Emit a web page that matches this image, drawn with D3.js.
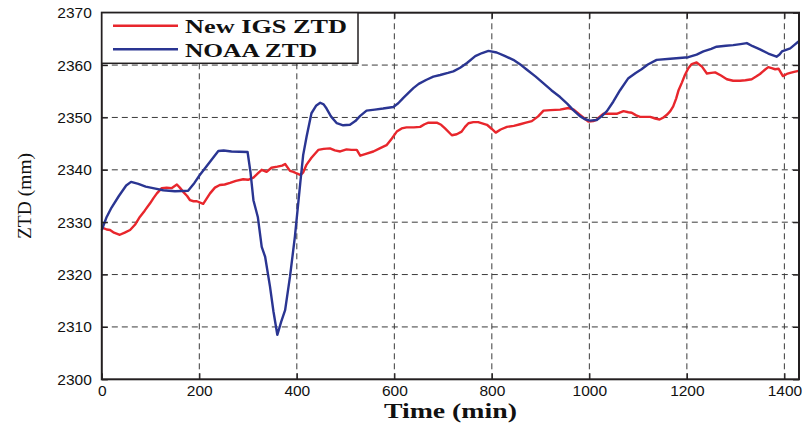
<!DOCTYPE html>
<html>
<head>
<meta charset="utf-8">
<script src="https://cdn.jsdelivr.net/npm/d3@7"></script>
<style>
  html, body { margin: 0; padding: 0; background: #fff; }
  svg { display: block; }
</style>
</head>
<body>
<svg id="chart" width="811" height="423"></svg>
<script>
// Time axis (minutes) and tick values
const xTicks = [0, 200, 400, 600, 800, 1000, 1200, 1400];
const yTicks = [2300, 2310, 2320, 2330, 2340, 2350, 2360, 2370];

// NOAA ZTD series (mm)
const noaaTime = [0,10,20,35,50,60,75,90,110,126,150,177,190,201,220,239,250,266,299,305,311,320,328,335,345,352,360,368,376,386,396,407,413,420,430,440,448,455,461,470,482,495,509,520,530,543,560,577,598,608,618,630,639,650,666,680,694,710,721,735,749,766,780,793,810,825,844,860,872,890,906,922,940,955,967,980,990,1001,1015,1025,1036,1049,1063,1080,1095,1107,1120,1138,1166,1203,1220,1234,1250,1261,1280,1295,1310,1323,1335,1350,1367,1384,1390,1395,1412,1420,1429];
const noaaZtd = [2328.5,2331,2332.8,2335,2337,2337.7,2337.3,2336.8,2336.4,2336.1,2335.9,2336.0,2337.5,2339.0,2341.3,2343.6,2343.7,2343.5,2343.4,2339.5,2334.2,2331,2325.3,2323.4,2317.7,2313,2308.5,2311,2313.2,2319.6,2327.2,2337.4,2342.8,2346.3,2350.8,2352.3,2352.8,2352.5,2351.7,2350.2,2348.9,2348.5,2348.6,2349.3,2350.3,2351.3,2351.5,2351.7,2352.0,2352.7,2353.7,2354.8,2355.6,2356.4,2357.2,2357.8,2358.1,2358.5,2358.8,2359.5,2360.4,2361.7,2362.3,2362.7,2362.4,2361.8,2361.0,2360.0,2359.1,2357.8,2356.5,2355.2,2353.9,2352.6,2351.4,2350.3,2349.7,2349.4,2349.5,2350.2,2351.2,2353.0,2355.2,2357.5,2358.5,2359.2,2360.1,2361.0,2361.2,2361.5,2362.0,2362.6,2363.1,2363.5,2363.7,2363.8,2364.0,2364.2,2363.6,2363.0,2362.2,2361.6,2362.0,2362.6,2363.2,2363.8,2364.5];

// New IGS ZTD series (mm)
const igsTime = [0,10,17,25,37,47,58,68,78,88,99,106,113,123,133,143,154,160,167,175,181,188,195,208,215,222,232,242,252,263,275,290,300,311,320,328,338,348,360,370,376,386,393,400,408,413,420,430,444,455,468,478,489,502,512,523,530,540,557,570,584,595,605,615,625,640,653,662,670,687,696,704,718,728,738,745,752,762,772,790,800,808,818,831,845,858,870,882,895,906,920,940,957,968,981,990,998,1008,1015,1022,1029,1045,1056,1070,1080,1087,1096,1104,1125,1135,1144,1152,1159,1166,1172,1178,1183,1190,1196,1203,1210,1220,1231,1241,1250,1258,1270,1282,1295,1309,1320,1333,1342,1350,1360,1367,1374,1381,1388,1397,1405,1412,1420,1429];
const igsZtd = [2329.0,2328.6,2328.5,2328.0,2327.6,2328.0,2328.5,2329.5,2331.0,2332.2,2333.6,2334.6,2335.5,2336.5,2336.6,2336.5,2337.2,2336.6,2335.8,2335.0,2334.2,2334.0,2334.0,2333.5,2334.5,2335.5,2336.6,2337.1,2337.2,2337.5,2337.9,2338.2,2338.1,2338.5,2339.3,2340.0,2339.6,2340.4,2340.6,2340.8,2341.1,2339.8,2339.6,2339.3,2339.0,2339.5,2341.0,2342.3,2343.8,2344.0,2344.1,2343.7,2343.5,2343.9,2343.8,2343.8,2342.7,2343.0,2343.5,2344.1,2344.7,2346.0,2347.3,2347.9,2348.1,2348.1,2348.2,2348.7,2349.0,2349.0,2348.6,2347.9,2346.6,2346.8,2347.3,2348.2,2348.9,2349.1,2349.1,2348.6,2347.8,2347.1,2347.7,2348.2,2348.4,2348.7,2349.0,2349.3,2350.2,2351.3,2351.4,2351.5,2351.8,2351.5,2350.5,2349.8,2349.2,2349.3,2349.6,2350.2,2350.7,2350.7,2350.7,2351.2,2351.0,2350.9,2350.4,2350.1,2350.1,2349.8,2349.6,2350.0,2350.5,2351.2,2352.1,2353.6,2355.2,2356.7,2358.1,2359.4,2360.2,2360.5,2359.7,2358.4,2358.5,2358.6,2358.0,2357.3,2357.0,2357.0,2357.1,2357.3,2357.8,2358.3,2359.1,2359.6,2359.4,2359.2,2359.3,2357.9,2358.3,2358.5,2358.7,2358.9];

const seriesNames = ["New IGS ZTD", "NOAA ZTD"];
const seriesColors = ["#e8262c", "#2a3592"];

const svg = d3.select("#chart");
const plotL = 101.8, plotR = 799, plotT = 12.7, plotB = 379.3;

const x = d3.scaleLinear().domain([0, 1430]).range([plotL, plotR]);
const y = d3.scaleLinear().domain([2300, 2370]).range([plotB, plotT]);

const axisColor = "#231f20";
const tickFont = "'Liberation Sans', Arial, sans-serif";
const serifFont = "'Liberation Serif', 'Times New Roman', serif";

// dashed grid
const grid = svg.append("g").attr("stroke", "#3a3a3a").attr("stroke-width", 1)
  .attr("stroke-dasharray", "6,4").attr("fill", "none");
xTicks.filter(t => t > 0).forEach(t => {
  grid.append("line").attr("x1", x(t)).attr("x2", x(t)).attr("y1", plotB).attr("y2", plotT);
});
yTicks.filter(t => t > 2300 && t < 2370).forEach(t => {
  grid.append("line").attr("x1", plotL).attr("x2", plotR).attr("y1", y(t)).attr("y2", y(t));
});

// data lines
const lineGen = d3.line().x(d => x(d[0])).y(d => y(d[1]));
const igsData = igsTime.map((t, i) => [t, igsZtd[i]]);
const noaaData = noaaTime.map((t, i) => [t, noaaZtd[i]]);

svg.append("path").datum(igsData).attr("d", lineGen)
  .attr("fill", "none").attr("stroke", seriesColors[0]).attr("stroke-width", 2.4)
  .attr("stroke-linejoin", "round");
svg.append("path").datum(noaaData).attr("d", lineGen)
  .attr("fill", "none").attr("stroke", seriesColors[1]).attr("stroke-width", 2.4)
  .attr("stroke-linejoin", "round");

// axes with inward ticks on all four sides
const tickLen = 6;
const bottomAxis = d3.axisBottom(x).tickValues(xTicks).tickSize(-tickLen).tickPadding(6).tickFormat(d3.format("d"));
const topAxis = d3.axisTop(x).tickValues(xTicks).tickSize(-tickLen).tickFormat("");
const leftAxis = d3.axisLeft(y).tickValues(yTicks).tickSize(-tickLen).tickPadding(10).tickFormat(d3.format("d"));
const rightAxis = d3.axisRight(y).tickValues(yTicks).tickSize(-tickLen).tickFormat("");

function styleAxis(g) {
  g.select(".domain").remove();
  g.selectAll(".tick line").attr("stroke", axisColor).attr("stroke-width", 1.2);
  g.selectAll(".tick text").attr("fill", "#111").style("font-family", tickFont).style("font-size", "15.5px");
}
svg.append("g").attr("transform", `translate(0,${plotB})`).call(bottomAxis).call(styleAxis);
svg.append("g").attr("transform", `translate(0,${plotT})`).call(topAxis).call(styleAxis);
svg.append("g").attr("transform", `translate(${plotL},0)`).call(leftAxis).call(styleAxis);
svg.append("g").attr("transform", `translate(${plotR},0)`).call(rightAxis).call(styleAxis);

// frame
svg.append("rect").attr("x", plotL).attr("y", plotT).attr("width", plotR - plotL).attr("height", plotB - plotT)
  .attr("fill", "none").attr("stroke", axisColor).attr("stroke-width", 2);

// legend
const legend = svg.append("g");
legend.append("rect").attr("x", plotL).attr("y", plotT).attr("width", 358 - plotL).attr("height", 63.3 - plotT)
  .attr("fill", "#fff").attr("stroke", axisColor).attr("stroke-width", 1.5);
const legendRows = [25.7, 49.3];
seriesNames.forEach((name, i) => {
  legend.append("line").attr("x1", 113).attr("x2", 178).attr("y1", legendRows[i]).attr("y2", legendRows[i])
    .attr("stroke", seriesColors[i]).attr("stroke-width", 2.4);
  legend.append("text").attr("x", 185).attr("y", legendRows[i] + 7.2)
    .attr("textLength", i === 0 ? 162 : 132).attr("lengthAdjust", "spacingAndGlyphs")
    .style("font-family", serifFont).style("font-weight", "bold").style("font-size", "19px")
    .attr("fill", "#111").text(name);
});

// axis titles
svg.append("text").attr("x", (plotL + plotR) / 2).attr("y", 418).attr("text-anchor", "middle")
  .attr("textLength", 133).attr("lengthAdjust", "spacingAndGlyphs")
  .style("font-family", serifFont).style("font-weight", "bold").style("font-size", "20px")
  .attr("fill", "#111").text("Time (min)");
svg.append("text").attr("transform", `translate(31,${(plotT + plotB) / 2}) rotate(-90)`).attr("text-anchor", "middle")
  .style("font-family", serifFont).style("font-size", "19.5px")
  .attr("fill", "#111").text("ZTD (mm)");
</script>
</body>
</html>
